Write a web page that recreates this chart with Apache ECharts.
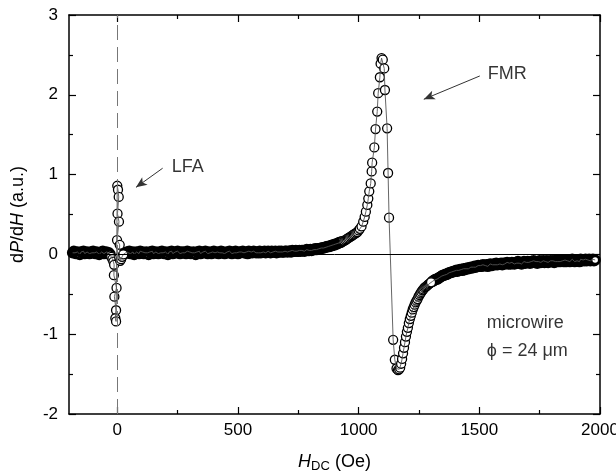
<!DOCTYPE html>
<html><head><meta charset="utf-8">
<script src="https://cdn.jsdelivr.net/npm/echarts@6/dist/echarts.min.js"></script>
<style>html,body{margin:0;padding:0;background:#fff}#c{width:616px;height:474px}</style>
</head><body><div id="c"></div>
<script>
// ---- tick definitions ----
const xMajorTicks = [0, 500, 1000, 1500, 2000];
const xMinorTicks = [250, 750, 1250, 1750];

// ---- data ----
// flat baseline before the LFA
const leftH = [-185,-180,-175,-170,-165,-160,-155,-150,-145,-140,-135,-130,-125,-120,-115,-110,-105,-100,-95,-90,-85,-80,-75,-70,-65,-60,-55,-50,-45,-40,-35,-30];
const leftV = [.02,.04,.02,.01,.03,.02,.00,.03,.02,.04,.01,.02,.03,.02,.01,.03,.02,.04,.02,.01,.03,.02,.00,.02,.03,.04,.01,.02,.03,.01,.02,.00];

// low-field absorption around H = 0
const lfaH = [-25,-20,-16,-13,-14,-3,-12,-5,-8,-5,0,3,6,1,7,-1,10,8,12,16,20,25];
const lfaV = [-0.03,-0.06,-0.09,-0.13,-0.26,-0.42,-0.53,-0.70,-0.80,-0.84,0.86,0.81,0.72,0.51,0.41,0.18,0.12,-0.04,-0.08,-0.06,-0.03,0.0];

// flat baseline between LFA and FMR
const baseH = [30,35,40,45,50,55,60,65,70,75,80,85,90,95,
100,105,110,115,120,125,130,135,140,145,150,155,160,165,170,175,180,185,190,195,
200,205,210,215,220,225,230,235,240,245,250,255,260,265,270,275,280,285,290,295,
300,305,310,315,320,325,330,335,340,345,350,355,360,365,370,375,380,385,390,395,
400,405,410,415,420,425,430,435,440,445,450,455,460,465,470,475,480,485,490,495,
500,505,510,515,520,525,530,535,540,545,550,555,560,565,570,575,580,585,590,595,
600,605,610,615,620,625,630,635,640,645,650,655,660,665,670,675,680,685,690,695,
700,705,710,715,720,725,730,735,740,745,750,755,760,765,770,775,780,785,790,795,
800,805,810,815,820,825,830,835,840,845,850,855,860,865,870,875,880,885,890,895,
900,905,910,915,920,925,930];
const baseV = [.01,.02,.03,.02,.04,.01,.02,.03,.00,.02,
.03,.02,.01,.04,.02,.03,.01,.02,.03,.02,
.00,.03,.02,.04,.01,.02,.03,.02,.01,.03,
.02,.04,.02,.01,.03,.02,.00,.03,.02,.04,
.01,.02,.03,.02,.04,.02,.01,.03,.02,.03,
.02,.01,.04,.02,.03,.01,.02,.03,.02,.00,
.03,.02,.04,.01,.02,.03,.02,.04,.02,.01,
.03,.02,.01,.03,.04,.02,.02,.03,.01,.02,
.04,.02,.03,.01,.02,.03,.02,.04,.02,.01,
.03,.02,.04,.02,.01,.03,.02,.03,.04,.02,
.02,.03,.01,.04,.02,.03,.02,.04,.03,.02,
.03,.02,.04,.02,.03,
.03,.04,.02,.03,.04,.03,.02,.04,.03,.03,.04,.02,.03,.04,.03,.04,.03,.03,.04,.04,
.03,.04,.04,.03,.05,.04,.04,.05,.04,.04,.05,.04,.05,.05,.04,.05,.06,.05,.05,.06,
.05,.06,.06,.07,.06,.07,.07,.07,.08,.08,.08,.09,.09,.10,.10,.10,.11,.11,.12,.12,
.13,.13,.14,.15,.15,.16];

// rising wing of the FMR line
const riseH = [935,940,945,950,955,960,965,970,975,980,985,990,995,1000,1005];
const riseV = [.17,.17,.18,.19,.20,.21,.22,.23,.24,.25,.26,.27,.28,.30,.32];

// FMR peak and trough
const fmrH = [1012,1019,1025,1030,1036,1040,1044,1050,1054,1056,1065,1070,1077,1081,1088,1091,1095,1100,1106,1109,1118,1122,1126,1143,1150,1157,1163,1168];
const fmrV = [0.35,0.41,0.47,0.535,0.62,0.70,0.79,0.89,1.04,1.15,1.34,1.57,1.79,2.02,2.22,2.39,2.46,2.44,2.33,2.06,1.58,1.02,0.46,-1.07,-1.32,-1.43,-1.45,-1.44];

// recovery just above the trough
const tailNearH = [1172,1176,1180,1184,1188,1192,1196,1200,1204,1208,1212,1216,1220,1224,1228,1232,1236,1240,1244,1248,1252,1256,1260,1264,1268,1272,1276,1280,1284,1288,1292,1296,1300];
const tailNearV = [-1.42,-1.37,-1.31,-1.24,-1.17,-1.10,-1.03,-0.97,-0.92,-0.86,-0.81,-0.77,-0.73,-0.69,-0.66,-0.63,-0.60,-0.58,-0.56,-0.53,-0.51,-0.49,-0.47,-0.45,-0.44,-0.42,-0.41,-0.40,-0.39,-0.38,-0.37,-0.36,-0.35];

// long high-field tail
const tailFarH = [1305,1310,1315,1320,1325,1330,1335,1340,1345,1350,1355,1360,1365,1370,1375,1380,1385,1390,1395,1400,
1405,1410,1415,1420,1425,1430,1435,1440,1445,1450,1455,1460,1465,1470,1475,1480,1485,1490,1495,1500,
1505,1510,1515,1520,1525,1530,1535,1540,1545,1550,1555,1560,1565,1570,1575,1580,1585,1590,1595,1600,
1605,1610,1615,1620,1625,1630,1635,1640,1645,1650,1655,1660,1665,1670,1675,1680,1685,1690,1695,1700,
1705,1710,1715,1720,1725,1730,1735,1740,1745,1750,1755,1760,1765,1770,1775,1780,1785,1790,1795,1800,
1805,1810,1815,1820,1825,1830,1835,1840,1845,1850,1855,1860,1865,1870,1875,1880,1885,1890,1895,1900,
1905,1910,1915,1920,1925,1930,1935,1940,1945,1950,1955,1960,1965,1970,1975,1980];
const tailFarV = [-.34,-.33,-.32,-.31,-.31,-.30,-.29,-.28,-.27,-.26,-.26,-.25,-.25,-.24,-.23,-.23,-.22,-.22,-.21,-.21,
-.20,-.21,-.20,-.19,-.19,-.20,-.18,-.19,-.18,-.17,-.18,-.17,-.16,-.17,-.16,-.15,-.16,-.15,-.14,-.15,
-.14,-.15,-.13,-.14,-.14,-.13,-.15,-.13,-.12,-.14,-.13,-.12,-.13,-.11,-.13,-.12,-.12,-.11,-.13,-.11,
-.12,-.11,-.10,-.12,-.11,-.12,-.10,-.11,-.12,-.10,-.11,-.09,-.11,-.10,-.12,-.10,-.09,-.11,-.10,-.09,
-.10,-.11,-.09,-.10,-.08,-.10,-.09,-.11,-.09,-.08,-.10,-.09,-.08,-.10,-.09,-.08,-.10,-.09,-.08,-.09,
-.08,-.10,-.09,-.07,-.09,-.08,-.09,-.07,-.08,-.09,-.07,-.09,-.08,-.07,-.09,-.08,-.06,-.08,-.09,-.07,
-.08,-.07,-.09,-.06,-.08,-.07,-.08,-.06,-.08,-.07,-.06,-.08,-.07,-.06,-.08,-.07];

// ---- annotations ----
const annotX = [226, 1535, 1531, 1531];
const annotY = [1.09, 2.26, -0.86, -1.21];
const annotText = ['LFA', 'FMR', 'microwire', '\u03D5 = 24 \u03BCm'];
const arrowFrom = [[188, 1.08], [1502, 2.236]];
const arrowTo = [[77.5, 0.84], [1270, 1.944]];

const FONT = 'Liberation Sans, Arial, sans-serif';
const pairs = (hs, vs) => hs.map((h, i) => [h, vs[i]]);
const curveData = pairs(leftH, leftV).concat(pairs(lfaH, lfaV), pairs(baseH, baseV),
  pairs(riseH, riseV), pairs(fmrH, fmrV), pairs(tailNearH, tailNearV), pairs(tailFarH, tailFarV));
const denseData = pairs(leftH, leftV).concat(pairs(baseH, baseV), pairs(tailFarH, tailFarV));
const sparseData = pairs(lfaH, lfaV).concat(pairs(riseH, riseV), pairs(fmrH, fmrV), pairs(tailNearH, tailNearV));

const gridRect = {left: 69, right: 16, top: 15, bottom: 60, containLabel: false, outerBoundsMode: 'none'};
const axisLineStyle = {color: '#000', width: 1.5};
const tickStyle = {color: '#000', width: 1.2};
const plain = v => String(v);

const chart = echarts.init(document.getElementById('c'), null, {renderer: 'canvas'});
chart.setOption({
  animation: false,
  backgroundColor: '#fff',
  textStyle: {fontFamily: FONT},
  grid: [Object.assign({}, gridRect), Object.assign({}, gridRect)],
  xAxis: [
    {gridIndex: 0, type: 'value', position: 'bottom', min: -200, max: 2000,
     axisLine: {show: true, onZero: false, lineStyle: axisLineStyle},
     axisTick: {show: true, inside: true, length: 7, lineStyle: tickStyle, customValues: xMajorTicks},
     axisLabel: {show: true, customValues: xMajorTicks, formatter: plain, fontSize: 17, color: '#000', margin: 8, fontFamily: FONT},
     splitLine: {show: false},
     name: '{i|H}{s|DC}{n| (Oe)}', nameLocation: 'middle', nameGap: 37,
     nameTextStyle: {fontSize: 18, color: '#000', rich: {
       i: {fontSize: 18, fontStyle: 'italic', fontFamily: FONT, color: '#000'},
       s: {fontSize: 13, fontFamily: FONT, color: '#000', padding: [9, 0, 0, 0]},
       n: {fontSize: 18, fontFamily: FONT, color: '#000'}}}},
    {gridIndex: 0, type: 'value', position: 'top', min: -200, max: 2000,
     axisLine: {show: true, onZero: false, lineStyle: axisLineStyle},
     axisTick: {show: true, inside: true, length: 7, lineStyle: tickStyle, customValues: xMajorTicks},
     axisLabel: {show: false}, splitLine: {show: false}},
    {gridIndex: 1, type: 'value', position: 'bottom', min: -200, max: 2000,
     axisLine: {show: false, onZero: false},
     axisTick: {show: true, inside: true, length: 4, lineStyle: tickStyle, customValues: xMinorTicks},
     axisLabel: {show: false}, splitLine: {show: false}},
    {gridIndex: 1, type: 'value', position: 'top', min: -200, max: 2000,
     axisLine: {show: false, onZero: false},
     axisTick: {show: true, inside: true, length: 4, lineStyle: tickStyle, customValues: xMinorTicks},
     axisLabel: {show: false}, splitLine: {show: false}}
  ],
  yAxis: [
    {gridIndex: 0, type: 'value', position: 'left', min: -2, max: 3, interval: 1,
     axisLine: {show: true, onZero: false, lineStyle: axisLineStyle},
     axisTick: {show: true, inside: true, length: 7, lineStyle: tickStyle},
     minorTick: {show: true, splitNumber: 2, length: 4, lineStyle: tickStyle},
     axisLabel: {show: true, fontSize: 17, color: '#000', margin: 11, fontFamily: FONT},
     splitLine: {show: false},
     name: '{n|d}{i|P}{n|/d}{i|H}{n| (a.u.)}', nameLocation: 'middle', nameGap: 42, nameRotate: 90,
     nameTextStyle: {fontSize: 18, color: '#000', rich: {
       i: {fontSize: 18, fontStyle: 'italic', fontFamily: FONT, color: '#000'},
       n: {fontSize: 18, fontFamily: FONT, color: '#000'}}}},
    {gridIndex: 0, type: 'value', position: 'right', min: -2, max: 3, interval: 1,
     axisLine: {show: true, onZero: false, lineStyle: axisLineStyle},
     axisTick: {show: true, inside: true, length: 7, lineStyle: tickStyle},
     minorTick: {show: true, splitNumber: 2, length: 4, lineStyle: tickStyle},
     axisLabel: {show: false}, splitLine: {show: false}},
    {gridIndex: 1, type: 'value', min: -2, max: 3, show: false}
  ],
  series: [
    {type: 'line', xAxisIndex: 0, yAxisIndex: 0, data: [], silent: true,
     markLine: {silent: true, symbol: ['none', 'none'], label: {show: false},
       data: [
         {yAxis: 0, lineStyle: {color: '#000', width: 1, type: 'solid'}},
         {xAxis: 0, lineStyle: {color: '#777', width: 1, type: [15, 7]}}
       ]}},
    {type: 'line', xAxisIndex: 0, yAxisIndex: 0, data: curveData, symbol: 'none', silent: true,
     lineStyle: {color: '#555', width: 0.9}},
    {type: 'scatter', xAxisIndex: 0, yAxisIndex: 0, data: denseData, silent: true,
     symbol: 'circle', symbolSize: 8.5,
     itemStyle: {color: '#fff', borderColor: '#000', borderWidth: 3, opacity: 1}},
    {type: 'scatter', xAxisIndex: 0, yAxisIndex: 0, data: sparseData, silent: true,
     symbol: 'circle', symbolSize: 9,
     itemStyle: {color: '#fff', borderColor: '#000', borderWidth: 1.3, opacity: 1}},
    {type: 'scatter', xAxisIndex: 0, yAxisIndex: 0, symbolSize: 0, silent: true,
     data: annotX.map((x, i) => [x, annotY[i], annotText[i]]),
     label: {show: true, position: 'right', distance: 0, formatter: p => p.value[2],
       fontSize: 18, color: '#000', fontFamily: FONT},
     markLine: {silent: true, symbol: ['none', 'arrow'], symbolSize: [7, 11], label: {show: false},
       lineStyle: {color: '#333', width: 1, type: 'solid'},
       data: arrowFrom.map((f, i) => [{coord: f}, {coord: arrowTo[i]}])}}
  ]
});
</script></body></html>
